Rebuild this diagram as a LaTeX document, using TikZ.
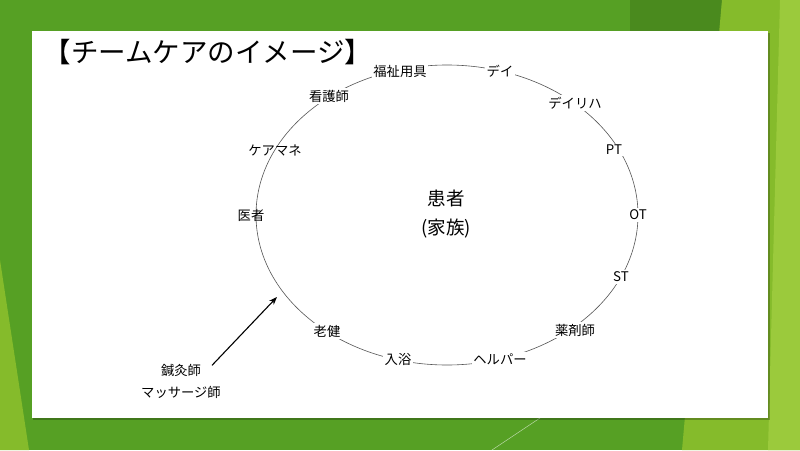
\documentclass[tikz,border=0pt]{standalone}
\usepackage{fontspec}
\setmainfont{Noto Sans CJK JP}
\usetikzlibrary{arrows.meta}
\definecolor{slidegreen}{HTML}{56A024}
\definecolor{darkgreen}{HTML}{4A8A1E}
\definecolor{lightgreen}{HTML}{85BB2B}
\definecolor{palegreen}{HTML}{9BCA3C}
\definecolor{ringgray}{HTML}{555555}
\begin{document}
\begin{tikzpicture}[x=1pt,y=-1pt,
    staff/.style={font=\fontsize{13.3}{16}\selectfont, fill=white, inner sep=1.5pt},
    staffopen/.style={font=\fontsize{13.3}{16}\selectfont, inner sep=1.5pt},
    ring/.style={draw=ringgray, line width=0.6pt},
    arr/.style={-{Stealth[length=8pt,width=6pt]}, line width=1.1pt}]
    \useasboundingbox (0,0) rectangle (800,450);
    \fill[slidegreen] (0,0) rectangle (800,450);
    \fill[darkgreen] (630,0) -- (722,0) -- (718,60) -- (630,60) -- cycle;
    \fill[lightgreen] (722,0) -- (800,0) -- (800,450) -- (682,450) -- cycle;
    \fill[palegreen] (780,0) -- (800,0) -- (800,450) -- (768,450) -- cycle;
    \fill[lightgreen] (0,260) -- (29,450) -- (0,450) -- cycle;
    \draw[white, opacity=0.6, line width=0.5pt] (492,450) -- (540,418);

    \fill[black, opacity=0.25] (33,33) rectangle (769.5,419.5);
    \fill[white] (32,31) rectangle (768,418);

    \node[anchor=west, font=\fontsize{27.5}{30}\selectfont] (title) at (40,52) {【チームケアのイメージ】};

    \draw[ring] (447,215) ellipse [x radius=191pt, y radius=150pt];

    \node[font=\fontsize{18.5}{29}\selectfont, align=center] (patient) at (446,214) {患者\\(家族)};

    \node[staff] (fukushi) at (400,71) {福祉用具};
    \node[staff] (day) at (500,71) {デイ};
    \node[staff] (kango) at (329,96) {看護師};
    \node[staff] (dayreha) at (575,103) {デイリハ};
    \node[staffopen] (caremane) at (275,150) {ケアマネ};
    \node[staff] (pt) at (614,150) {PT};
    \node[staffopen] (doctor) at (251,215) {医者};
    \node[staff] (ot) at (638,215) {OT};
    \node[staff] (st) at (621,277) {ST};
    \node[staff] (yakuzai) at (575,330) {薬剤師};
    \node[staff] (roken) at (327,331) {老健};
    \node[staff] (nyuyoku) at (398,359) {入浴};
    \node[staff] (helper) at (500,359) {ヘルパー};

    \node[font=\fontsize{13.3}{22}\selectfont, align=center] (hari) at (181,381) {鍼灸師\\マッサージ師};
    \coordinate (ringpoint) at (277,297);
    \draw[arr] ([shift={(31,5)}]hari.north) -- (ringpoint);
\end{tikzpicture}
\end{document}
